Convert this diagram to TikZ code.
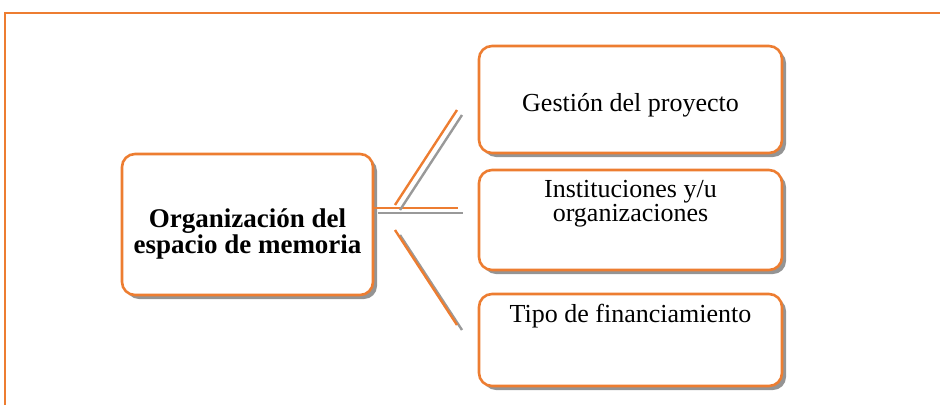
\documentclass[tikz,border=0pt]{standalone}
\usepackage{fontspec}
\setmainfont{Liberation Serif}
\usetikzlibrary{positioning,shadows}
\definecolor{naranja}{RGB}{237,125,49}
\tikzstyle{caja} = [draw=naranja, line width=2.6pt, fill=white, rounded corners=13pt, inner sep=0pt, drop shadow={shadow xshift=4pt, shadow yshift=-4pt, fill=black!42, opacity=1}]
\tikzstyle{rama} = [draw=naranja, line width=2.4pt, preaction={draw=black!40, line width=2.4pt, transform canvas={shift={(5pt,-5pt)}}}]
\tikzstyle{texto} = [inner sep=0pt, align=center, font=\fontsize{26}{24}\selectfont]

\begin{document}
\begin{tikzpicture}[x=1pt, y=-1pt]
            \useasboundingbox (0,0) rectangle (940,405);
            \draw[naranja, line width=2.2pt] (5,405) -- (5,13) -- (940,13);
            % cajas
            \node[caja, minimum width=251pt, minimum height=141pt] (centro) at (247.5,224.5) {};
            \node[caja, minimum width=303pt, minimum height=107pt] (gestion) at (630.5,99.5) {};
            \node[caja, minimum width=303pt, minimum height=100pt] (inst) at (630.5,220) {};
            \node[caja, minimum width=303pt, minimum height=92pt] (tipo) at (630.5,340) {};
            % textos
            \node[texto, font=\fontsize{27}{24}\selectfont\bfseries, below=56pt of centro.north] (centro-txt) {Organización del\\espacio de memoria};
            \node[texto, below=49pt of gestion.north] (gestion-txt) {Gestión del proyecto};
            \node[texto, below=11pt of inst.north] (inst-txt) {Instituciones y/u\\organizaciones};
            \node[texto, below=11pt of tipo.north] (tipo-txt) {Tipo de financiamiento};
            % ramas
            \coordinate (h1) at (373,208);
            \coordinate (h2) at (458,208);
            \coordinate (a1) at (395,205);
            \coordinate (a2) at (457,110);
            \coordinate (b1) at (395,230);
            \coordinate (b2) at (457,325);
            \draw[rama] (h1) -- (h2);
            \draw[rama] (a1) -- (a2);
            \draw[rama] (b1) -- (b2);
        \end{tikzpicture}
\end{document}
